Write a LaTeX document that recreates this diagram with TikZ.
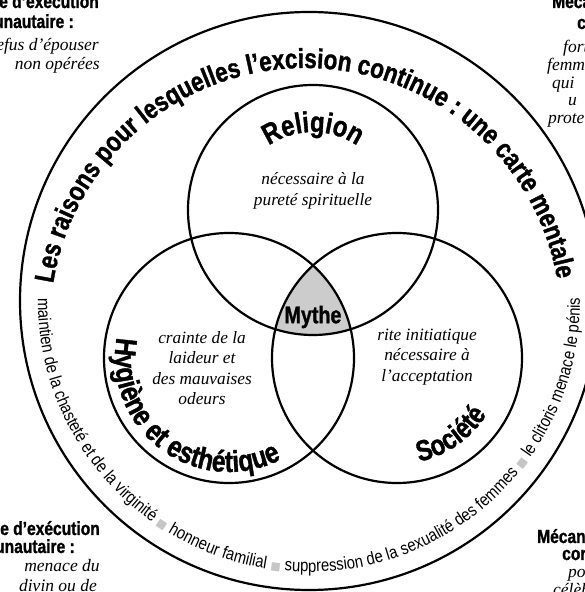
\documentclass[tikz,border=0pt]{standalone}
\usepackage{fontspec}
\setmainfont{Liberation Serif}
\newfontfamily\headfont[FakeStretch=0.82, BoldFeatures={FakeBold=1.2}]{Liberation Sans}
\newfontfamily\ringfont[FakeStretch=0.85]{Liberation Sans}
\newfontfamily\markfont{DejaVu Sans}
\usetikzlibrary{decorations.text}

\tikzset{
  venn/.style={circle, draw, line width=2.2pt, inner sep=0pt, minimum size=250pt},
  desc/.style={font=\itshape\fontsize{17.3}{20.5}\selectfont, align=center, inner sep=0pt},
  cornerbf/.style={font=\headfont\bfseries\fontsize{19}{22}\selectfont, inner sep=0pt},
  cornerit/.style={font=\itshape\fontsize{17.5}{19}\selectfont, inner sep=0pt},
}
\newcommand{\headtxt}{\headfont\bfseries\fontsize{29}{31}\selectfont}
\newcommand{\titletxt}{\headfont\bfseries\fontsize{27.5}{30}\selectfont}
\newcommand{\ringtxt}{\ringfont\fontsize{17.5}{20}\selectfont}
\newcommand{\sqmark}{\markfont\fontsize{11}{11}\selectfont\color{gray!45}}

\begin{document}
\begin{tikzpicture}[x=1pt,y=1pt]
\useasboundingbox (0,0) rectangle (585,592);

% centres
\coordinate (cR) at (313,382);
\coordinate (cH) at (229,234);
\coordinate (cS) at (397,234);
\coordinate (cO) at (309,291);
\coordinate (cT) at (305.5,268.5);

% mythe region
\begin{scope}
  \clip (cR) circle[radius=125pt];
  \clip (cH) circle[radius=125pt];
  \fill[gray!40] (cS) circle[radius=125pt];
\end{scope}

\node[circle, draw, line width=2.2pt, inner sep=0pt, minimum size=578pt] (outer) at (cO) {};
\node[venn] (religion) at (cR) {};
\node[venn] (hygiene) at (cH) {};
\node[venn] (societe) at (cS) {};

% title round the top
\path[decorate, decoration={text along path, text align=center,
  text={|\titletxt|Les raisons pour lesquelles l’excision continue : une carte mentale}}]
  ([shift={(171:255.5pt)}]cT) arc[start angle=171, end angle=10, radius=255.5pt];

% ring text round the bottom
\path[decorate, decoration={text along path, text align=center,
  text={|\ringtxt|maintien de la chasteté et de la virginité |\sqmark|■|\ringtxt| honneur familial |\sqmark|■|\ringtxt| suppression de la sexualité des femmes |\sqmark|■|\ringtxt| le clitoris menace le pénis}}]
  ([shift={(180:271pt)}]cO) arc[start angle=180, end angle=360, radius=271pt];

% circle titles
\path[decorate, decoration={text along path, text align=center, text={|\headtxt|Religion}}]
  ([shift={(145:78pt)}]cR) arc[start angle=145, end angle=35, radius=78pt];
\path[decorate, decoration={text along path, text align=center,
  text={|\headfont\bfseries\fontsize{30}{32}\selectfont|Hygiène et esthétique}}]
  ([shift={(158.5:114pt)}]cH) arc[start angle=158.5, end angle=308.5, radius=114pt];
\path[decorate, decoration={text along path, text align=center, text={|\headtxt|Société}}]
  ([shift={(-100:106pt)}]cS) arc[start angle=-100, end angle=-10, radius=106pt];

\node[font=\headfont\bfseries\fontsize{24}{26}\selectfont, inner sep=0pt] (mythe) at (313,275) {Mythe};

% descriptions
\node[desc] (dreligion) at (313,401) {nécessaire à la\\pureté spirituelle};
\node[desc] (dhygiene) at (202,224) {crainte de la\\laideur et\\des mauvaises\\odeurs};
\node[desc] (dsociete) at (427,235) {rite initiatique\\nécessaire à\\l’acceptation};

% corner blocks
\node[cornerbf, anchor=base east] (tl1) at (99,584) {Mécanisme d’exécution};
\node[cornerbf, anchor=base east] (tl2) at (74,564) {communautaire :};
\node[cornerit, anchor=base east] (tl3) at (99,541) {refus d’épouser};
\node[cornerit, anchor=base east] (tl4) at (100,522) {non opérées};

\node[cornerbf, anchor=base west] (tr1) at (552,584) {Mécanisme};
\node[cornerbf, anchor=base west] (tr2) at (577,563) {contrôle :};
\node[cornerit, anchor=base west] (tr3) at (563,539) {forte};
\node[cornerit, anchor=base west] (tr4) at (547,521) {femmes};
\node[cornerit, anchor=base west] (tr5) at (552,503) {qui};
\node[cornerit, anchor=base west] (tr6) at (568,486) {u};
\node[cornerit, anchor=base west] (tr7) at (548,468) {protection};

\node[cornerbf, anchor=base east] (bl1) at (100,57) {Mécanisme d’exécution};
\node[cornerbf, anchor=base east] (bl2) at (75,39) {communautaire :};
\node[cornerit, anchor=base] (bl3) at (62,20) {menace du};
\node[cornerit, anchor=base] (bl4) at (58,1) {divin ou de};

\node[cornerbf, anchor=base west] (br1) at (537,49) {Mécanisme};
\node[cornerbf, anchor=base west] (br2) at (562,32) {contrôle :};
\node[cornerit, anchor=base west] (br3) at (568,15) {pouvoir};
\node[cornerit, anchor=base west] (br4) at (553,-3) {célèbre};
\end{tikzpicture}
\end{document}
